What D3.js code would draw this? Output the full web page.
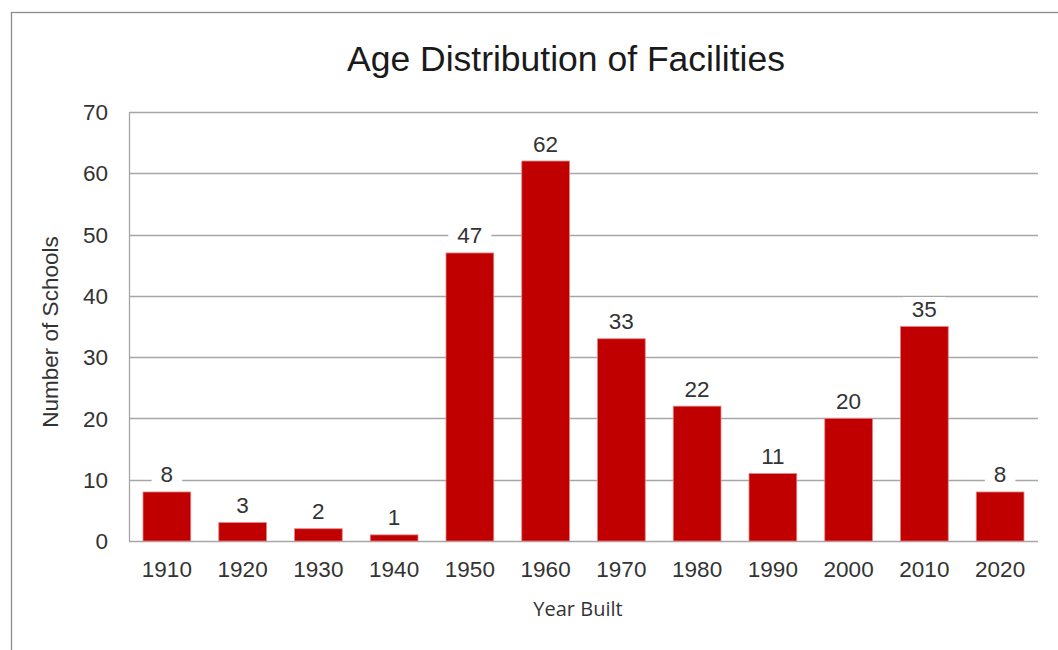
<!DOCTYPE html>
<html>
<head>
<meta charset="utf-8">
<script src="https://cdn.jsdelivr.net/npm/d3@7"></script>
<style>
  body { margin: 0; background: #fff; }
  svg { display: block; }
</style>
</head>
<body>
<div id="chart"></div>
<script>
// data
const years = ['1910', '1920', '1930', '1940', '1950', '1960', '1970', '1980', '1990', '2000', '2010', '2020'];
const counts = [8, 3, 2, 1, 47, 62, 33, 22, 11, 20, 35, 8];
const yTicks = [0, 10, 20, 30, 40, 50, 60, 70];

const width = 1058, height = 650;
const plot = {left: 129, right: 1038, top: 112, bottom: 541};

const svg = d3.select('#chart').append('svg')
  .attr('width', width)
  .attr('height', height);

// outer frame (only top and left edges show in the picture)
svg.append('rect')
  .attr('x', 11.5).attr('y', 12.5)
  .attr('width', width + 20).attr('height', height + 20)
  .attr('fill', 'none')
  .attr('stroke', '#8c8c8c')
  .attr('stroke-width', 1.3);

const x = d3.scaleBand()
  .domain(years)
  .range([plot.left, plot.right])
  .paddingInner(0.37)
  .paddingOuter(0.185);

const y = d3.scaleLinear()
  .domain([0, 70])
  .range([plot.bottom, plot.top]);

// gridlines
svg.append('g')
  .selectAll('line')
  .data(yTicks)
  .join('line')
  .attr('x1', plot.left).attr('x2', plot.right)
  .attr('y1', d => Math.round(y(d)) + 0.5)
  .attr('y2', d => Math.round(y(d)) + 0.5)
  .attr('stroke', '#a6a6a6')
  .attr('stroke-width', 1.3);

// y axis line
svg.append('line')
  .attr('x1', plot.left + 0.5).attr('x2', plot.left + 0.5)
  .attr('y1', plot.top).attr('y2', plot.bottom)
  .attr('stroke', '#a6a6a6')
  .attr('stroke-width', 1.3);

// y tick labels
svg.append('g')
  .selectAll('text')
  .data(yTicks)
  .join('text')
  .attr('x', 108)
  .attr('y', d => y(d))
  .attr('dy', '0.36em')
  .attr('text-anchor', 'end')
  .attr('font-family', 'Liberation Sans, Arial, sans-serif')
  .attr('font-size', 22.5)
  .attr('fill', '#333')
  .text(d => d);

// x tick labels
svg.append('g')
  .selectAll('text')
  .data(years)
  .join('text')
  .attr('x', d => x(d) + x.bandwidth() / 2)
  .attr('y', 577)
  .attr('text-anchor', 'middle')
  .attr('font-family', 'Liberation Sans, Arial, sans-serif')
  .attr('font-size', 22.5)
  .attr('fill', '#333')
  .text(d => d);

// bars
svg.append('g')
  .selectAll('rect')
  .data(counts)
  .join('rect')
  .attr('x', (d, i) => x(years[i]))
  .attr('y', d => y(d))
  .attr('width', x.bandwidth())
  .attr('height', d => plot.bottom - y(d))
  .attr('fill', '#c00000')
  .attr('stroke', '#e88080')
  .attr('stroke-width', 0.8);

// value labels with white backing that cuts the gridlines
const labels = svg.append('g')
  .selectAll('g')
  .data(counts)
  .join('g');

labels.append('rect').attr('fill', '#fff');
labels.append('text')
  .attr('x', (d, i) => x(years[i]) + x.bandwidth() / 2)
  .attr('y', d => y(d) - 9.5)
  .attr('text-anchor', 'middle')
  .attr('font-family', 'Liberation Sans, Arial, sans-serif')
  .attr('font-size', 22.5)
  .attr('fill', '#333')
  .text(d => d);

labels.each(function() {
  const g = d3.select(this);
  const b = g.select('text').node().getBBox();
  g.select('rect')
    .attr('x', b.x - 9)
    .attr('y', b.y)
    .attr('width', b.width + 18)
    .attr('height', b.height);
});

// title
svg.append('text')
  .attr('x', 566)
  .attr('y', 71)
  .attr('text-anchor', 'middle')
  .attr('font-family', 'Liberation Sans, Arial, sans-serif')
  .attr('font-size', 35.5)
  .attr('fill', '#1a1a1a')
  .text('Age Distribution of Facilities');

// axis titles
svg.append('text')
  .attr('x', 578)
  .attr('y', 616)
  .attr('text-anchor', 'middle')
  .attr('font-family', 'Open Sans, sans-serif')
  .attr('font-size', 20)
  .attr('fill', '#333')
  .text('Year Built');

svg.append('text')
  .attr('transform', 'translate(58,332) rotate(-90)')
  .attr('text-anchor', 'middle')
  .attr('font-family', 'Liberation Sans, Arial, sans-serif')
  .attr('font-size', 22.5)
  .attr('fill', '#333')
  .text('Number of Schools');
</script>
</body>
</html>
